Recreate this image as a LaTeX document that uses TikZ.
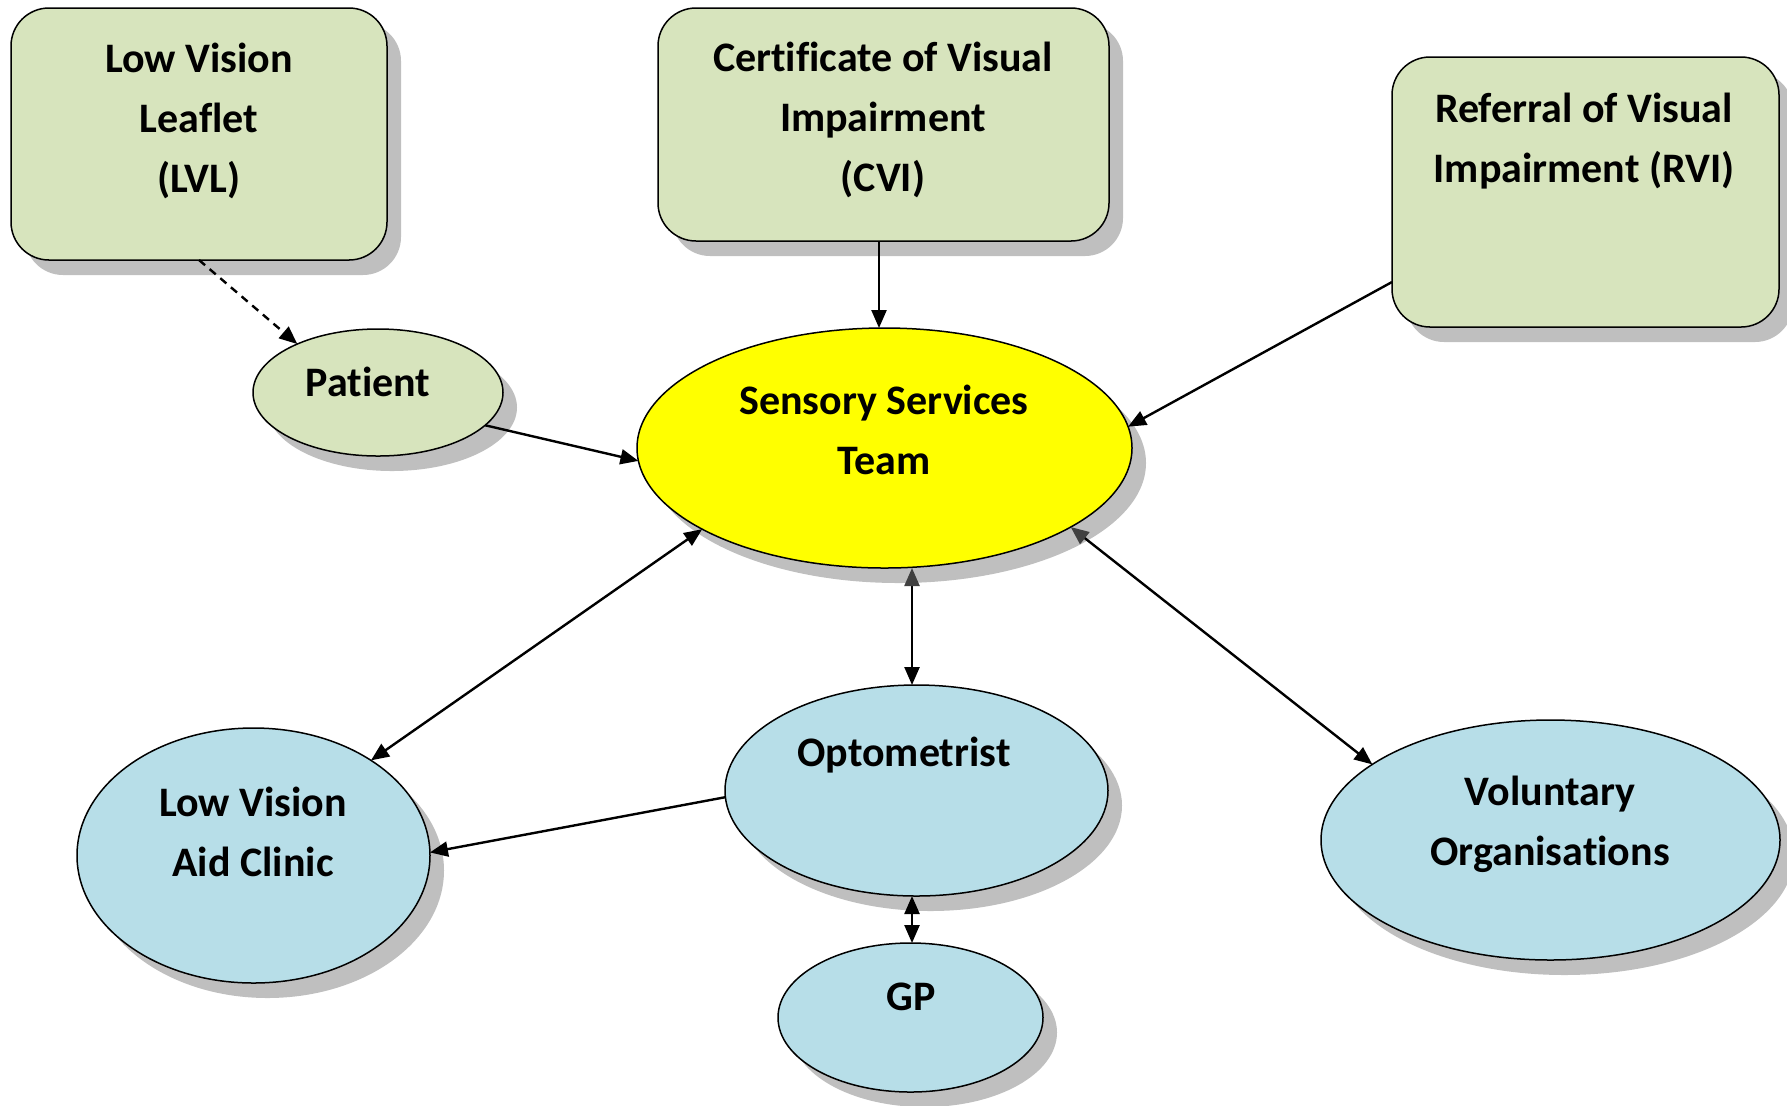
\documentclass[tikz,border=0pt]{standalone}
\usepackage{fontspec}
\setmainfont{Carlito}[Ligatures={NoCommon}]
\usetikzlibrary{shapes.geometric,shadows,arrows.meta}
\definecolor{boxgreen}{HTML}{D7E4BD}
\definecolor{ellblue}{HTML}{B7DEE8}
\definecolor{ssyellow}{HTML}{FFFF00}
\definecolor{shadowgray}{HTML}{BFBFBF}
\begin{document}
\begin{tikzpicture}[x=0.5pt,y=-0.5pt,
  shad/.style={drop shadow={shadow xshift=7pt,shadow yshift=-7.5pt,fill=shadowgray,opacity=1}},
  gbox/.style={rectangle,draw=black,line width=0.75pt,fill=boxgreen,rounded corners=19pt,inner sep=0pt,outer sep=0pt,shad},
  ell/.style={ellipse,draw=black,line width=0.75pt,inner sep=0pt,outer sep=0pt,shad},
  txt/.style={font=\bfseries\fontsize{21}{30}\selectfont,align=center,anchor=base,inner sep=0pt,outer sep=0pt},
  conn/.style={line width=1.2pt,-{Triangle[length=9pt,width=7.5pt]}},
  conn2/.style={line width=1.2pt,{Triangle[length=9pt,width=7.5pt]}-{Triangle[length=9pt,width=7.5pt]}},
  conn2g/.style={line width=1.2pt,{Triangle[length=9pt,width=7.5pt,color=black!75]}-{Triangle[length=9pt,width=7.5pt]}},
]
\useasboundingbox (0,0) rectangle (1787,1105);

% shapes
\node[gbox,minimum width=188pt,minimum height=126pt] (lvl) at (199,134) {};
\node[gbox,minimum width=225.5pt,minimum height=116.5pt] (cvi) at (883.5,124.5) {};
\node[gbox,minimum width=193.5pt,minimum height=135pt] (rvi) at (1585.5,192) {};
\node[ell,fill=boxgreen,minimum width=125pt,minimum height=63.5pt] (patient) at (378,392.5) {};
\node[ell,fill=ssyellow,minimum width=247.5pt,minimum height=120pt] (sensory) at (884.5,448) {};
\node[ell,fill=ellblue,minimum width=191.5pt,minimum height=105.5pt] (opt) at (916.5,790.5) {};
\node[ell,fill=ellblue,minimum width=132.5pt,minimum height=74.5pt] (gp) at (910.5,1017.5) {};
\node[ell,fill=ellblue,minimum width=176.5pt,minimum height=127.5pt] (lvac) at (253.5,855.5) {};
\node[ell,fill=ellblue,minimum width=229.5pt,minimum height=120pt] (vol) at (1550.5,840) {};

% texts (anchored at the baseline of the last line)
\node[txt] (lvl-t) at (199,192) {Low Vision\\Leaflet\\(LVL)};
\node[txt] (cvi-t) at (883,191) {Certificate of Visual\\Impairment\\(CVI)};
\node[txt] (rvi-t) at (1584,182) {Referral of Visual\\Impairment (RVI)};
\node[txt] (patient-t) at (368,396) {Patient};
\node[txt] (sensory-t) at (884,474) {Sensory Services\\Team};
\node[txt] (opt-t) at (904,766) {Optometrist};
\node[txt] (gp-t) at (911,1010) {GP};
\node[txt] (lvac-t) at (253,876) {Low Vision\\Aid Clinic};
\node[txt] (vol-t) at (1550,865) {Voluntary\\Organisations};

% connectors
\draw[conn,dash pattern=on 4pt off 3pt] (lvl.south) -- (patient.149);
\draw[conn] (patient.-17) -- (sensory.183);
\draw[conn] ([xshift=-2.25pt]cvi.south) -- ([xshift=-2.75pt]sensory.north);
\draw[conn] ([yshift=-45pt]rvi.west) -- (sensory.5.7);
\draw[conn2] (sensory.-156.5) -- (lvac.39.1);
\draw[conn2g] ([xshift=13.75pt]sensory.south) -- ([xshift=-2.25pt]opt.north);
\draw[conn2] ([xshift=-2.25pt]opt.south) -- ([xshift=0.75pt]gp.north);
\draw[conn] (opt.182.2) -- (lvac.1.2);
\draw[conn2g] (sensory.-23.6) -- (vol.157.7);
\end{tikzpicture}
\end{document}
